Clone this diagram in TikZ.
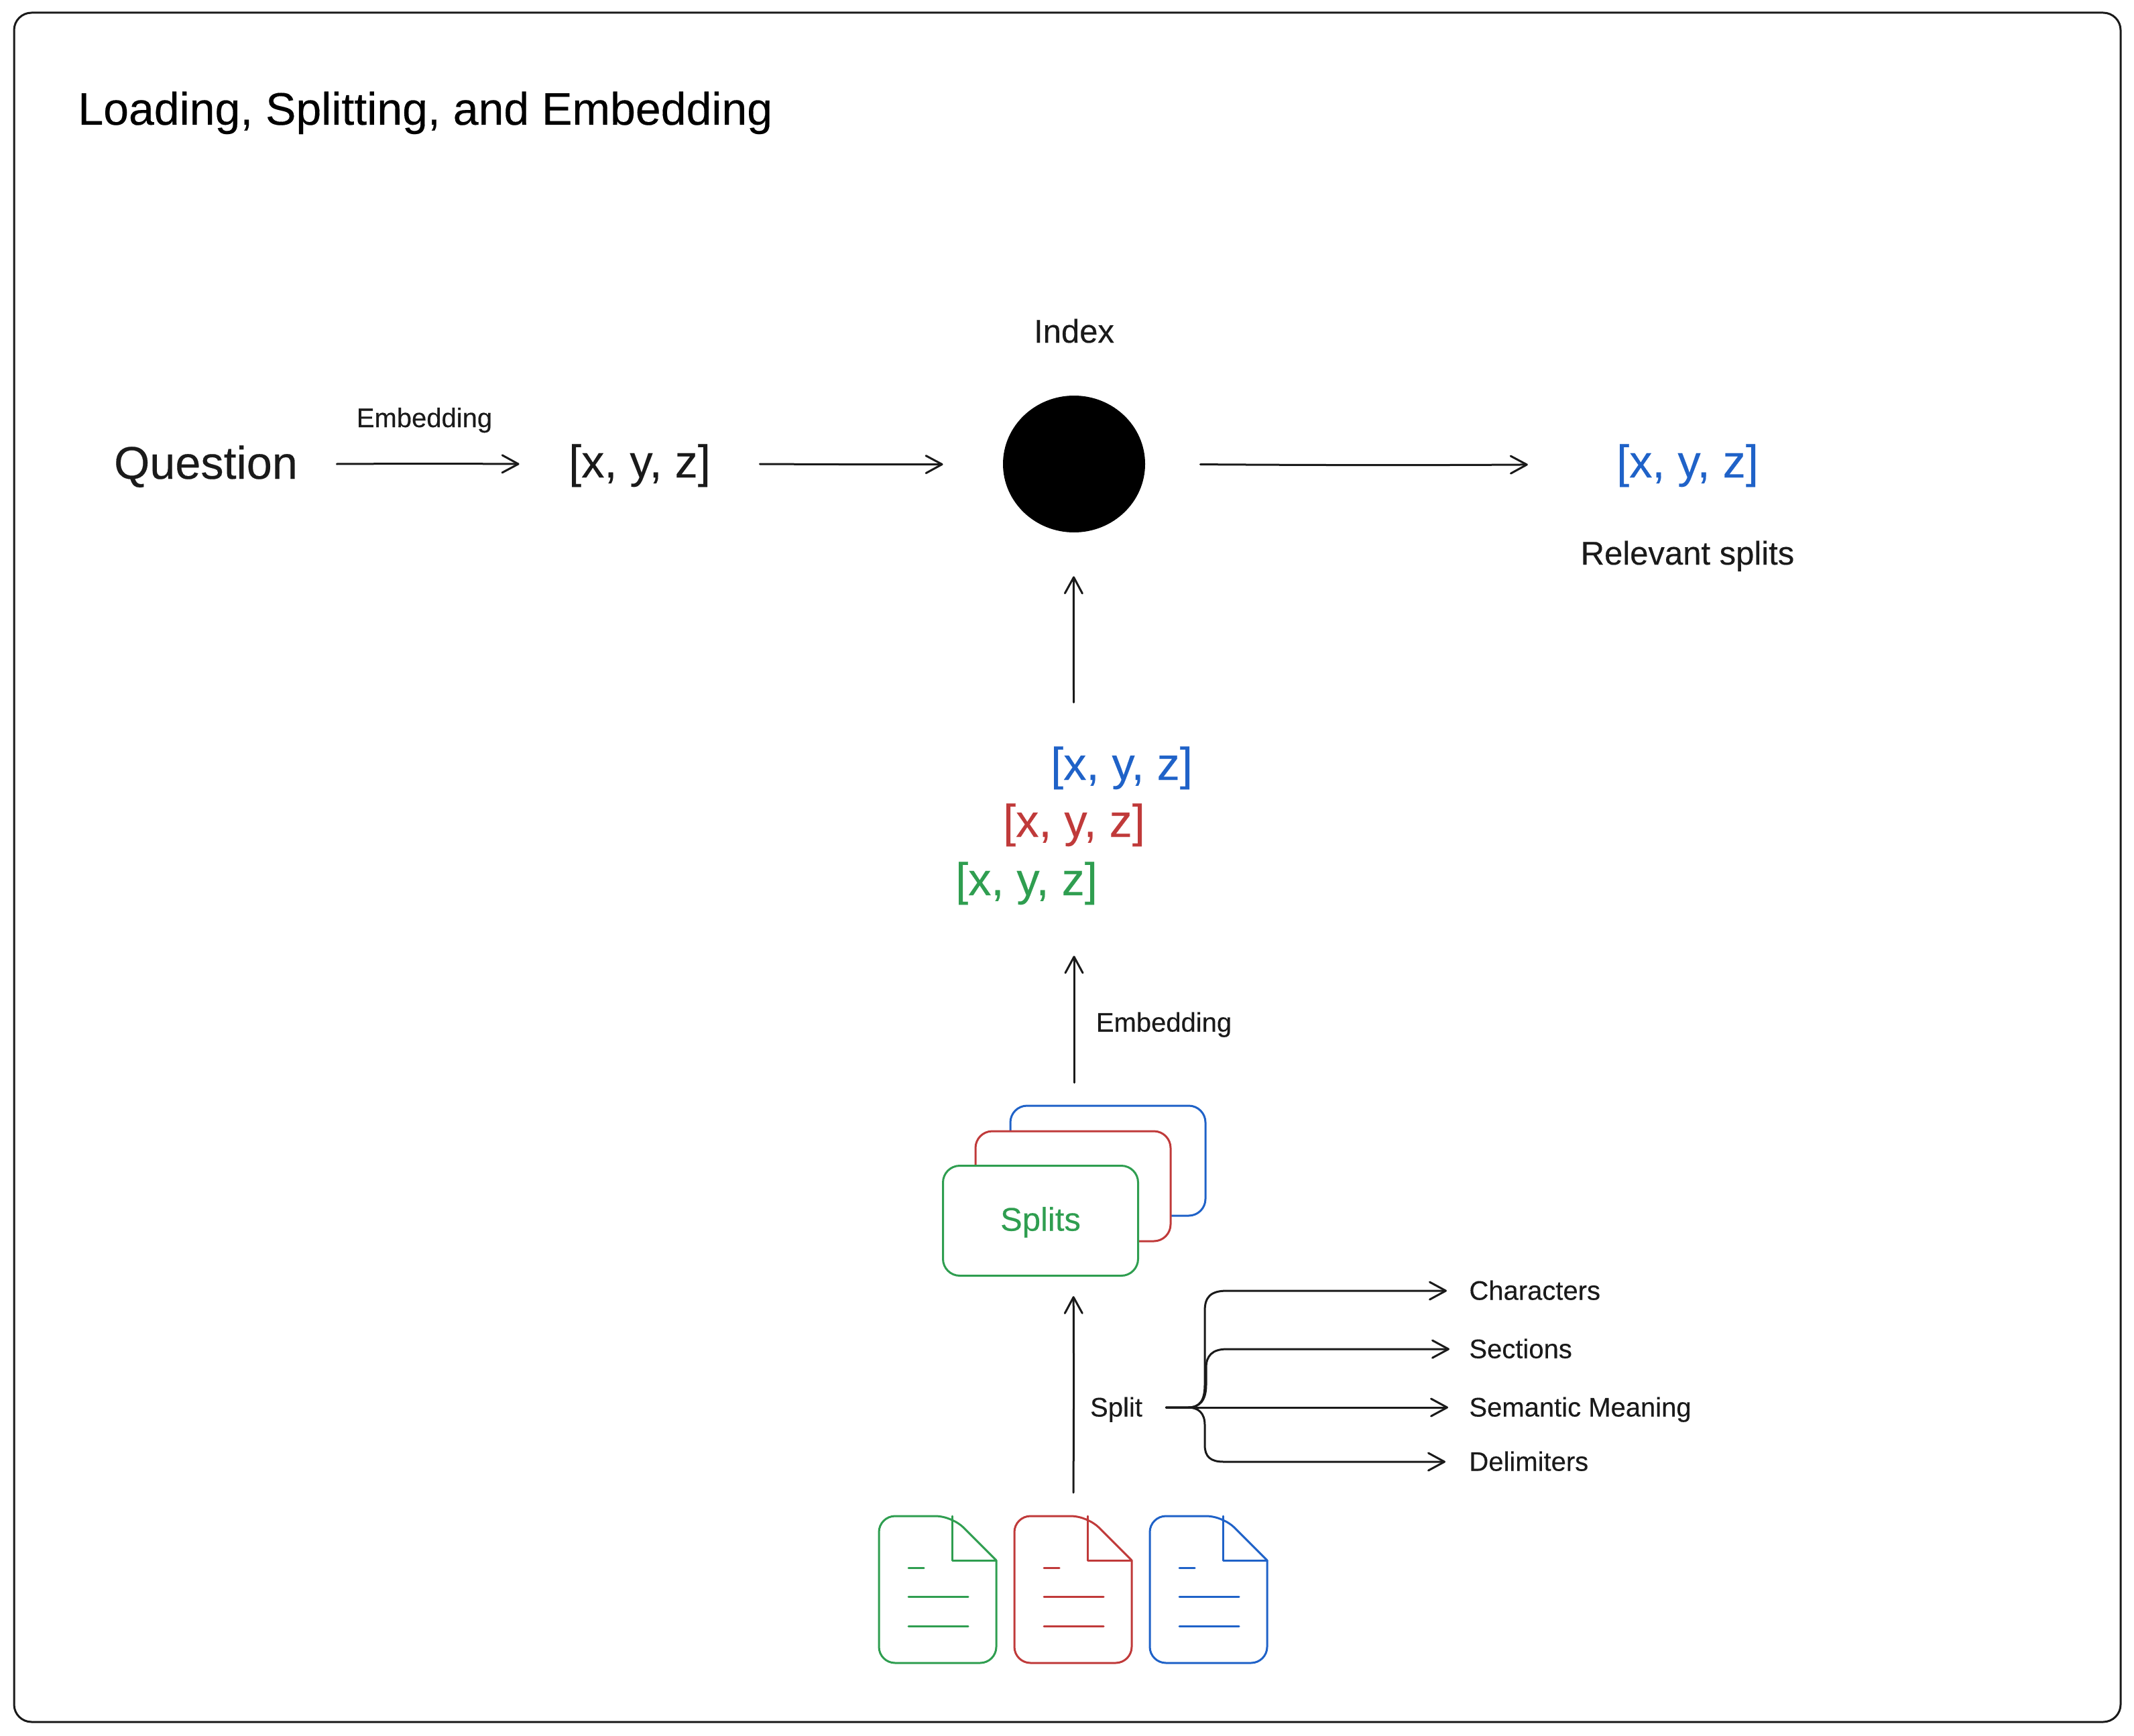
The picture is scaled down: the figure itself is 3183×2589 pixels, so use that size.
\documentclass[tikz,border=0pt]{standalone}
\usepackage{fontspec}
\setmainfont{Liberation Sans}[FakeBold=0.25]
\usetikzlibrary{arrows.meta,shapes.geometric,calc}
\definecolor{ink}{HTML}{1A1A1A}
\definecolor{cgreen}{HTML}{2F9E50}
\definecolor{cred}{HTML}{C03A3A}
\definecolor{cblue}{HTML}{1F62C8}
\tikzset{
  arr/.style={draw=ink,line width=1.5pt,line cap=round,line join=round,-{Straight Barb[length=12pt,width=13pt,line width=1.5pt,round]}},
  vec/.style={inner sep=0pt,font=\fontsize{34.2}{38}\selectfont,text height=28pt,text depth=8pt,align=center},
  midlab/.style={inner sep=0pt,text=ink,font=\fontsize{24.5}{28}\selectfont,text height=22pt,text depth=4pt},
  lab/.style={inner ysep=0pt,text=ink,anchor=west,font=\fontsize{20}{23}\selectfont,text height=17.5pt,text depth=4pt},
  card/.style={draw=#1,line width=1.5pt,fill=white,rounded corners=12.5pt,inner sep=0pt,minimum width=145.5pt,minimum height=82pt},
}
\newcommand{\docicon}[3]{%
  \begin{scope}[shift={(#1,2261)},draw=#2,line width=1.5pt,line join=round,line cap=round]
    \draw[rounded corners=12pt] (175,66) -- (175,219) -- (0,219) -- (0,0) -- (109,0) [sharp corners] -- (175,66);
    \draw (109,0) -- (109,66) -- (175,66);
    \draw (44,77) -- (67,77);
    \draw (44,120) -- (133,120);
    \draw (44,164) -- (133,164);
  \end{scope}}
\begin{document}
\begin{tikzpicture}[x=0.5pt,y=-0.5pt]
\useasboundingbox (0,0) rectangle (3183,2589);
\fill[white] (0,0) rectangle (3183,2589);
\node[draw=ink,line width=1.5pt,rounded corners=13pt,inner sep=0pt,minimum width=1571pt,minimum height=1274.5pt] (frame) at (1592,1293.5) {};
\node[anchor=base west,inner sep=0pt,text=black,font=\fontsize{34}{40}\selectfont] (title) at (116,186) {Loading, Splitting, and Embedding};
% top row
\node[inner sep=0pt,text=ink,minimum width=195pt,font=\fontsize{34.2}{38}\selectfont,text height=28pt,text depth=6pt] (question) at (307,692) {Question};
\node[vec,text=ink,minimum width=179pt] (v1) at (954,692) {[x, y, z]};
\node[ellipse,fill=black,inner sep=0pt,minimum width=106pt,minimum height=102pt] (index) at (1602,692) {};
\node[midlab] (indexlab) at (1602,493) {Index};
\node[vec,text=cblue] (v2) at (2517,692) {[x, y, z]};
\node[midlab] (relevant) at (2517,824) {Relevant splits};
\node[inner sep=0pt,text=ink,font=\fontsize{20}{23}\selectfont,text height=18pt,text depth=4pt] (embed1) at (633,623) {Embedding};
\draw[arr] (question.east) to[bend left=0.3] (v1.west);
\draw[arr,shorten >=44.5pt] (v1.east) to[bend right=0.3] (index.west);
\draw[arr,shorten <=41pt,shorten >=66pt] (index.east) to[bend right=0.4] (v2.west);
% stacked vectors
\node[vec,text=cblue] (vb) at (1673,1143) {[x, y, z]};
\node[vec,text=cred] (vr) at (1602,1228) {[x, y, z]};
\node[vec,text=cgreen] (vg) at (1531,1315) {[x, y, z]};
\draw[arr,shorten <=29.5pt,shorten >=32.5pt] (index |- vb.north) to[bend left=0.4] (index.south);
% cards
\node[card=cblue] (cardb) at (1652.5,1731) {};
\node[card=cred] (cardr) at (1600.5,1769) {};
\node[card=cgreen,text=cgreen,font=\fontsize{24.5}{28}\selectfont,text height=20pt,text depth=5pt] (cardg) at (1552,1820.5) {Splits};
\node[lab,anchor=center,inner xsep=0pt] (embed2) at (1736,1525) {Embedding};
\draw[arr,shorten <=16.5pt,shorten >=37pt] (index |- cardb.north) -- (index |- vg.south);
% documents
\docicon{1311}{cgreen}{d1}
\docicon{1513}{cred}{d2}
\docicon{1715}{cblue}{d3}
\coordinate (docs) at (1601,2226);
\draw[arr,shorten >=14.5pt] (docs) to[bend right=0.3] (docs |- cardg.south);
% split
\node[lab,anchor=center,inner xsep=0pt,minimum width=74pt] (split) at (1665,2099) {Split};
\node[lab,inner xsep=16.5pt] (chars) at (2158,1925) {Characters};
\node[lab,inner xsep=14.5pt] (sect) at (2162,2012) {Sections};
\node[lab,inner xsep=15.5pt] (sem) at (2160,2099) {Semantic Meaning};
\node[lab,inner xsep=17.5pt] (delim) at (2156,2180) {Delimiters};
\coordinate (junction) at (1797,2099);
\draw[arr] (split.east) -- (1772,2099) .. controls (1790,2099) and (1797,2088) .. (1797,2065) -- (1797,1955) .. controls (1797,1935) and (1805,1925) .. (1830,1925) -- (chars.west);
\draw[arr] (split.east) -- (1772,2099) .. controls (1790,2099) and (1799,2088) .. (1799,2065) -- (1799,2040) .. controls (1799,2022) and (1808,2012) .. (1830,2012) -- (sect.west);
\draw[arr] (split.east) -- (sem.west);
\draw[arr] (split.east) -- (1772,2099) .. controls (1788,2099) and (1797,2108) .. (1797,2125) -- (1797,2155) .. controls (1797,2172) and (1805,2180) .. (1825,2180) -- (delim.west);
\end{tikzpicture}
\end{document}
